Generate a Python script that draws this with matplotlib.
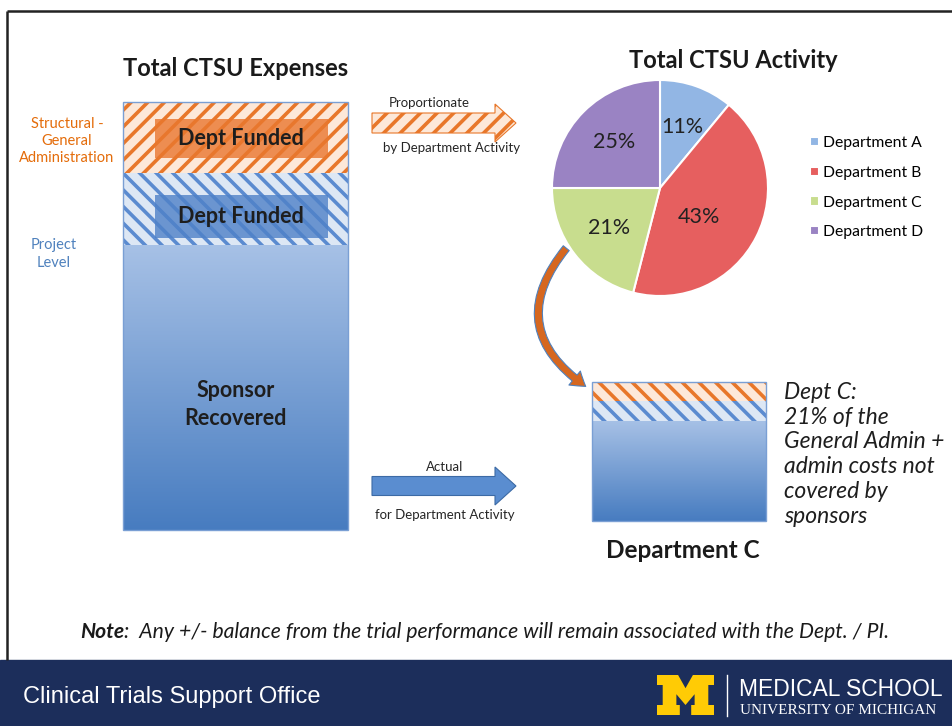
import numpy as np
import matplotlib
matplotlib.use('Agg')
import matplotlib.pyplot as plt
from matplotlib.patches import Rectangle, FancyArrow, FancyArrowPatch, Polygon
from matplotlib.colors import LinearSegmentedColormap

plt.rcParams['font.family'] = ['Lato', 'DejaVu Sans']
plt.rcParams['hatch.linewidth'] = 2.6

# Data
expense_parts = ['Sponsor Recovered', 'Project Level', 'Structural - General Administration']
expense_values = [66.6, 16.8, 16.6]
dept_c_values = [72.0, 14.4, 13.6]
departments = ['Department A', 'Department B', 'Department C', 'Department D']
activity_pct = [11, 43, 21, 25]
pie_colors = ['#92b6e4', '#e65f5f', '#c8dd8e', '#9a83c3']

ORANGE = '#e8772a'
BLUE = '#5b8bd0'
W, H = 952, 726

fig = plt.figure(figsize=(W / 100, H / 100), dpi=100)
bg = fig.add_axes([0, 0, 1, 1])
bg.set_xlim(0, W)
bg.set_ylim(H, 0)
bg.axis('off')


def px_axes(x0, y0, x1, y1):
    # axes placed with pixel box (top-left origin)
    return fig.add_axes([x0 / W, 1 - y1 / H, (x1 - x0) / W, (y1 - y0) / H])


grad = LinearSegmentedColormap.from_list('sponsor', ['#477cc0', '#a7c1e6'])


def stacked_bar(ax, values, hatches):
    bottoms = np.concatenate([[0], np.cumsum(values)[:-1]])
    styles = [(None, None, None), ('#dde7f4', BLUE, hatches[0]), ('#fde8d8', ORANGE, hatches[1])]
    for v, b, (fc, ec, h) in zip(values, bottoms, styles):
        if h is None:
            bar = ax.bar(0, v, bottom=b, width=1, color='none', lw=0)[0]
            im = ax.imshow(np.linspace(0, 1, 256).reshape(-1, 1), cmap=grad, aspect='auto',
                           extent=(-0.5, 0.5, b, b + v), origin='lower', zorder=1)
            im.set_clip_path(bar)
        else:
            ax.bar(0, v, bottom=b, width=1, color=fc, edgecolor=ec, hatch=h, lw=0, zorder=1)
    ax.bar(0, sum(values), width=1, fill=False, edgecolor='#7a9fd4', lw=1, zorder=3, clip_on=False)
    ax.set_xlim(-0.5, 0.5)
    ax.set_ylim(0, sum(values))
    ax.axis('off')
    return bottoms


# Frame and footer band
bg.plot([7, 7], [660, 11], color='#222222', lw=1.8, solid_capstyle='butt')
bg.plot([7, W], [11, 11], color='#222222', lw=1.8, solid_capstyle='butt')
bg.add_patch(Rectangle((0, 660), W, 66, color='#1c2e5b', zorder=0))

# Left: total expenses bar
axl = px_axes(123, 102, 348, 530)
bot = stacked_bar(axl, expense_values, ['\\\\', '//'])
for seg, f0, f1, fc in [(2, 0.21, 0.76, '#e9772f'), (1, 0.10, 0.69, '#4f81c8')]:
    y0 = bot[seg] + f0 * expense_values[seg]
    hgt = (f1 - f0) * expense_values[seg]
    axl.add_patch(Rectangle((-0.36, y0), 0.77, hgt, facecolor=fc, alpha=0.8, lw=0, zorder=2))
    axl.text(0.025, y0 + hgt / 2, 'Dept Funded', ha='center', va='center', fontsize=15.5,
             fontweight='bold', color='#1e1e1e', zorder=4)
axl.text(0, bot[0] + expense_values[0] * 0.44, 'Sponsor\nRecovered', ha='center', va='center',
         fontsize=15.5, fontweight='bold', color='#1e1e1e', linespacing=1.4, zorder=4)

bg.text(236, 68, 'Total CTSU Expenses', ha='center', va='center', fontsize=17, fontweight='bold', color='#1a1a1a')
bg.text(67, 141, 'Structural -\nGeneral\nAdministration', ha='center', va='center', fontsize=10.5,
        color='#e46c0a', linespacing=1.3)
bg.text(54, 254, 'Project\nLevel', ha='center', va='center', fontsize=10.5, color='#4f81bd', linespacing=1.3)

# Arrows between bar and right side
bg.add_patch(FancyArrow(372, 123, 144, 0, width=20, head_width=38, head_length=21, length_includes_head=True,
                        facecolor='#fde8d8', edgecolor=ORANGE, hatch='//', lw=0.8))
bg.text(429, 103, 'Proportionate', ha='center', va='center', fontsize=9.5, color='#262626')
bg.text(452, 148, 'by Department Activity', ha='center', va='center', fontsize=9.5, color='#262626')
bg.add_patch(FancyArrow(372, 486, 144, 0, width=19, head_width=38, head_length=21, length_includes_head=True,
                        facecolor='#5a8dd0', edgecolor='#3c6aa5', lw=0.8))
bg.text(445, 467, 'Actual', ha='center', va='center', fontsize=9.5, color='#262626')
bg.text(445, 515, 'for Department Activity', ha='center', va='center', fontsize=9.5, color='#262626')

# Pie
axp = px_axes(552, 80, 768, 296)
wedges, _, autotexts = axp.pie(activity_pct, colors=pie_colors, startangle=90, counterclock=False,
                               autopct=lambda p: f'{p:.0f}%', pctdistance=0.6,
                               wedgeprops=dict(edgecolor='white', lw=1.5),
                               textprops=dict(fontsize=15.5, color='#222222'))
autotexts[1].set_x(autotexts[1].get_position()[0] - 0.17)
axp.set_xlim(-1, 1)
axp.set_ylim(-1, 1)
bg.text(733, 60, 'Total CTSU Activity', ha='center', va='center', fontsize=17, fontweight='bold', color='#1a1a1a')
fig.legend(wedges, departments, loc='upper left', bbox_to_anchor=(796 / W, 1 - 122 / H), frameon=False,
           fontsize=11.3, handlelength=0.55, handleheight=0.55, handletextpad=0.3, labelspacing=1.0)

# Curved arrow from Department C slice
bg.add_patch(FancyArrowPatch((568, 246), (588, 388), connectionstyle='arc3,rad=0.55',
                             arrowstyle='simple,head_length=1.0,head_width=1.3,tail_width=0.55',
                             mutation_scale=10, facecolor='#d6671f', edgecolor='#4f81bd', lw=0.8))

# Department C bar
axc = px_axes(592, 382, 766, 521)
stacked_bar(axc, dept_c_values, ['\\\\', '\\\\'])
bg.text(683, 551, 'Department C', ha='center', va='center', fontsize=17.5, fontweight='bold', color='#1a1a1a')
bg.text(784, 382, 'Dept C:\n21% of the\nGeneral Admin +\nadmin costs not\ncovered by\nsponsors',
        ha='left', va='top', fontsize=16.5, style='italic', color='#1e1e1e', linespacing=1.22)

# Note
note = bg.text(80, 632, 'Note', ha='left', va='center', fontsize=15.2, style='italic', fontweight='bold',
               color='#1a1a1a')
bg.annotate(':  Any +/- balance from the trial performance will remain associated with the Dept. / PI.',
            xy=(1, 0.5), xycoords=note, ha='left', va='center', fontsize=15.2, style='italic', color='#1a1a1a')

# Footer
bg.text(23, 697, 'Clinical Trials Support Office', ha='left', va='center', fontsize=17,
        family=['Liberation Sans', 'DejaVu Sans'], color='white')
m = np.array([(0, 0), (0.37, 0), (0.5, 0.33), (0.63, 0), (1, 0), (1, 0.25), (0.9, 0.25), (0.9, 0.75),
              (1, 0.75), (1, 1), (0.6, 1), (0.6, 0.75), (0.66, 0.75), (0.66, 0.48), (0.5, 0.75),
              (0.34, 0.48), (0.34, 0.75), (0.4, 0.75), (0.4, 1), (0, 1), (0, 0.75), (0.1, 0.75),
              (0.1, 0.25), (0, 0.25)])
bg.add_patch(Polygon(m * [57, 40] + [657, 675], closed=True, color='#ffcb05', lw=0))
bg.plot([727, 727], [675, 716], color='white', lw=1)
bg.text(739, 689, 'MEDICAL SCHOOL', ha='left', va='center', fontsize=16.5,
        family=['Liberation Sans', 'DejaVu Sans'], color='white')
bg.text(740, 710, 'UNIVERSITY OF MICHIGAN', ha='left', va='center', fontsize=11,
        family=['Liberation Serif', 'DejaVu Serif'], color='white')

fig.savefig('out.png', dpi=100)
